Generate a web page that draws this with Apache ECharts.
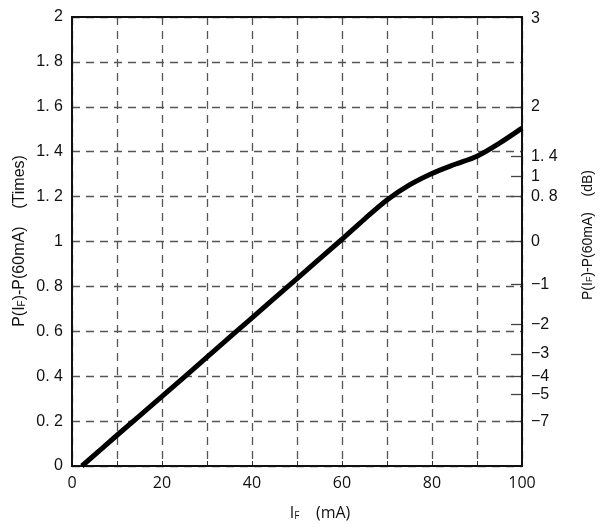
<!DOCTYPE html>
<html><head><meta charset="utf-8">
<script src="https://cdn.jsdelivr.net/npm/echarts@6/dist/echarts.min.js"></script>
<style>html,body{margin:0;padding:0;background:#fff}#c{width:603px;height:525px}</style>
</head><body><div id="c"></div>
<script>
// Data
const curveX = [2.2, 10, 20, 30, 40, 50, 60, 65, 70, 75, 80, 85, 90, 95, 100];
const curveY = [0, 0.137, 0.31, 0.485, 0.66, 0.835, 1.01, 1.1, 1.185, 1.252, 1.303, 1.343, 1.38, 1.438, 1.505];
const leftTicks = [0, 0.2, 0.4, 0.6, 0.8, 1, 1.2, 1.4, 1.6, 1.8, 2];
const leftLabels = ['0', '0. 2', '0. 4', '0. 6', '0. 8', '1', '1. 2', '1. 4', '1. 6', '1. 8', '2'];
const xLabels = [0, 20, 40, 60, 80, 100];
const dbLabels = ['3', '2', '1. 4', '1', '0. 8', '0', '\u22121', '\u22122', '\u22123', '\u22124', '\u22125', '\u22127'];
const dbPositions = [1.995, 1.6, 1.38, 1.29, 1.2, 1.0, 0.81, 0.63, 0.5, 0.4, 0.32, 0.2];

const chart = echarts.init(document.getElementById('c'));
const sans = 'Liberation Sans';
const txt = '#111';
chart.setOption({
  animation: false,
  backgroundColor: '#fff',
  grid: {left: 72, right: 81, top: 17, bottom: 59, show: true, borderColor: '#111', borderWidth: 2, backgroundColor: 'transparent', z: 5},
  xAxis: {
    type: 'value', min: 0, max: 100, interval: 10,
    axisLine: {show: false},
    axisTick: {show: true, inside: true, length: 5, lineStyle: {color: '#333'}},
    splitLine: {show: true, lineStyle: {type: [8, 6], color: '#555', width: 1.3}},
    axisLabel: {fontFamily: 'Open Sans', fontSize: 16, color: txt, margin: 9,
      formatter: v => xLabels.indexOf(v) >= 0 ? String(v) : ''}
  },
  yAxis: [{
    type: 'value', min: 0, max: 2, interval: 0.2, position: 'left',
    axisLine: {show: false}, axisTick: {show: false},
    splitLine: {show: true, lineStyle: {type: [8, 6], color: '#555', width: 1.3}},
    axisLabel: {fontFamily: sans, fontSize: 16, color: txt, margin: 9,
      formatter: v => { const i = leftTicks.findIndex(t => Math.abs(t - v) < 1e-6); return i >= 0 ? leftLabels[i] : ''; }}
  }, {
    type: 'value', min: 0, max: 2, position: 'right',
    axisLine: {show: false}, splitLine: {show: false},
    axisTick: {show: true, inside: true, length: 11, customValues: dbPositions.slice(1), lineStyle: {color: '#444', width: 1.3}},
    axisLabel: {fontFamily: sans, fontSize: 16, color: txt, margin: 9, customValues: dbPositions,
      formatter: v => { const i = dbPositions.findIndex(t => Math.abs(t - v) < 1e-6); return i >= 0 ? dbLabels[i] : ''; }}
  }],
  series: [{
    type: 'line', xAxisIndex: 0, yAxisIndex: 0,
    data: curveX.map((x, i) => [x, curveY[i]]),
    smooth: 0.3, showSymbol: false, symbol: 'none',
    lineStyle: {color: '#000', width: 5}, z: 10
  }],
  graphic: [
    {type: 'text', x: 20, y: 241, rotation: Math.PI / 2, style: {
      text: '{a|P(I}{s|F}{a|)-P(60mA)    (Times)}', align: 'center', verticalAlign: 'middle',
      rich: {a: {fontFamily: sans, fontSize: 16, fill: txt}, s: {fontFamily: sans, fontSize: 10, fill: txt, padding: [4, 0, 0, 0]}}}},
    {type: 'text', x: 588, y: 235, rotation: Math.PI / 2, style: {
      text: '{a|P(I}{s|F}{a|)-P(60mA)    (dB)}', align: 'center', verticalAlign: 'middle',
      rich: {a: {fontFamily: sans, fontSize: 14, fill: txt}, s: {fontFamily: sans, fontSize: 9, fill: txt, padding: [4, 0, 0, 0]}}}},
    {type: 'text', x: 320, y: 513, style: {
      text: '{a|I}{s|F}{a|    (mA)}', align: 'center', verticalAlign: 'middle',
      rich: {a: {fontFamily: 'Open Sans', fontSize: 16, fill: txt}, s: {fontFamily: 'Open Sans', fontSize: 10, fill: txt, padding: [6, 0, 0, 0]}}}}
  ]
});
</script></body></html>
